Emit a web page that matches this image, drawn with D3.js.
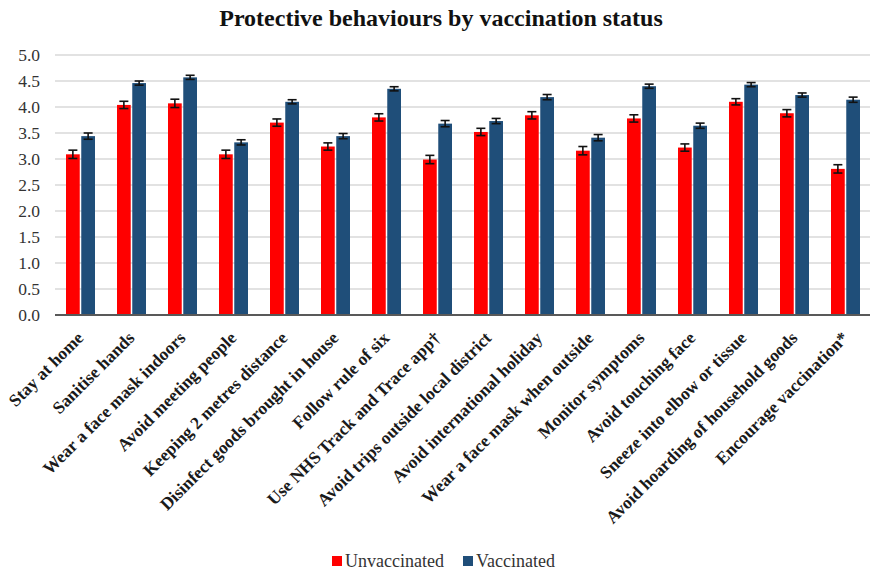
<!DOCTYPE html>
<html>
<head>
<meta charset="utf-8">
<script src="https://cdn.jsdelivr.net/npm/d3@7"></script>
<style>
  body { margin: 0; background: #fff; }
  #chart { width: 870px; height: 573px; }
</style>
</head>
<body>
<div id="chart"></div>
<script>
// categories and values
const behaviours = ["Stay at home", "Sanitise hands", "Wear a face mask indoors", "Avoid meeting people",
    "Keeping 2 metres distance", "Disinfect goods brought in house", "Follow rule of six",
    "Use NHS Track and Trace app\u2020", "Avoid trips outside local district", "Avoid international holiday",
    "Wear a face mask when outside", "Monitor symptoms", "Avoid touching face",
    "Sneeze into elbow or tissue", "Avoid hoarding of household goods", "Encourage vaccination*"];
const unvaccinated = [3.09, 4.04, 4.07, 3.09, 3.70, 3.24, 3.80, 2.99, 3.52, 3.84, 3.16, 3.78, 3.22, 4.10, 3.88, 2.81];
const vaccinated   = [3.44, 4.46, 4.57, 3.32, 4.10, 3.44, 4.35, 3.68, 3.73, 4.19, 3.41, 4.40, 3.64, 4.43, 4.23, 4.14];
const unvaccErr    = [0.08, 0.07, 0.08, 0.08, 0.07, 0.07, 0.07, 0.08, 0.07, 0.07, 0.08, 0.07, 0.07, 0.06, 0.07, 0.08];
const vaccErr      = [0.06, 0.04, 0.04, 0.05, 0.04, 0.05, 0.04, 0.06, 0.05, 0.05, 0.06, 0.04, 0.05, 0.04, 0.04, 0.05];
const series = ["Unvaccinated", "Vaccinated"];
const colours = ["#ff0000", "#1f4e79"];
const yTicks = [0, 0.5, 1, 1.5, 2, 2.5, 3, 3.5, 4, 4.5, 5];

const width = 870, height = 573;
const margin = {top: 55, left: 55, right: 0, bottom: 258};
const serif = "'Liberation Serif', 'Times New Roman', serif";

let svg = d3.select("#chart").append("svg")
    .attr("width", width)
    .attr("height", height);

// title
svg.append("text")
    .attr("x", 441)
    .attr("y", 26)
    .attr("text-anchor", "middle")
    .style("font-family", serif)
    .style("font-weight", "bold")
    .style("font-size", "24px")
    .attr("fill", "#111")
    .text("Protective behaviours by vaccination status");

let x = d3.scaleBand()
    .domain(behaviours)
    .range([margin.left, width + 1])
    .paddingInner(0)
    .paddingOuter(0);

let x1 = d3.scaleBand()
    .domain(series)
    .range([11, 40])
    .paddingInner(0.1);

let y = d3.scaleLinear()
    .domain([0, 5])
    .range([height - margin.bottom, margin.top]);

// gridlines
svg.append("g")
    .selectAll("line")
    .data(yTicks.slice(1))
    .enter()
    .append("line")
    .attr("x1", margin.left)
    .attr("x2", width)
    .attr("y1", d => y(d))
    .attr("y2", d => y(d))
    .attr("stroke", "#d9d9d9")
    .attr("stroke-width", 1.5);

// y axis labels
let yAxis = svg.append("g")
    .attr("transform", `translate(${margin.left},0)`)
    .call(d3.axisLeft(y).tickValues(yTicks).tickFormat(d3.format(".1f")).tickSize(0).tickPadding(15));
yAxis.select(".domain").remove();
yAxis.attr("font-family", null).attr("font-size", null);
yAxis.selectAll("text")
    .style("font-family", serif)
    .style("font-size", "17.5px")
    .attr("fill", "#333");

// bars
let rows = behaviours.map((b, i) => ({
    name: b,
    vals: [
        {s: series[0], v: unvaccinated[i], e: unvaccErr[i]},
        {s: series[1], v: vaccinated[i], e: vaccErr[i]}
    ]
}));

let groups = svg.append("g")
    .selectAll("g")
    .data(rows)
    .enter()
    .append("g")
    .attr("transform", d => `translate(${x(d.name)},0)`);

groups.selectAll("rect")
    .data(d => d.vals)
    .enter()
    .append("rect")
    .attr("x", d => x1(d.s))
    .attr("width", x1.bandwidth())
    .attr("y", d => y(d.v))
    .attr("height", d => y(0) - y(d.v))
    .attr("fill", (d, i) => colours[i]);

// error bars
let err = groups.selectAll("g.err")
    .data(d => d.vals)
    .enter()
    .append("g")
    .attr("class", "err")
    .attr("stroke", "#111")
    .attr("stroke-width", 1.6);

err.append("line")
    .attr("x1", d => x1(d.s) + x1.bandwidth() / 2)
    .attr("x2", d => x1(d.s) + x1.bandwidth() / 2)
    .attr("y1", d => y(d.v - d.e))
    .attr("y2", d => y(d.v + d.e));
err.append("line")
    .attr("x1", d => x1(d.s) + x1.bandwidth() / 2 - 4.5)
    .attr("x2", d => x1(d.s) + x1.bandwidth() / 2 + 4.5)
    .attr("y1", d => y(d.v + d.e))
    .attr("y2", d => y(d.v + d.e));
err.append("line")
    .attr("x1", d => x1(d.s) + x1.bandwidth() / 2 - 4.5)
    .attr("x2", d => x1(d.s) + x1.bandwidth() / 2 + 4.5)
    .attr("y1", d => y(d.v - d.e))
    .attr("y2", d => y(d.v - d.e));

// baseline
svg.append("line")
    .attr("x1", margin.left)
    .attr("x2", width)
    .attr("y1", y(0))
    .attr("y2", y(0))
    .attr("stroke", "#595959")
    .attr("stroke-width", 2);

// x labels rotated
svg.append("g")
    .selectAll("text")
    .data(behaviours)
    .enter()
    .append("text")
    .attr("transform", d => `translate(${x(d) + x.bandwidth() / 2 + 4},${y(0) + 24}) rotate(-45)`)
    .attr("text-anchor", "end")
    .style("font-family", serif)
    .style("font-weight", "bold")
    .style("font-size", "17.5px")
    .attr("fill", "#1a1a1a")
    .text(d => d);

// legend
let legend = svg.append("g")
    .attr("transform", "translate(332,567)");
let legendX = [0, 131];
series.forEach((s, i) => {
    legend.append("rect")
        .attr("x", legendX[i])
        .attr("y", -11)
        .attr("width", 10)
        .attr("height", 10)
        .attr("fill", colours[i]);
    legend.append("text")
        .attr("x", legendX[i] + 13)
        .attr("y", 0)
        .style("font-family", serif)
        .style("font-size", "18px")
        .attr("fill", "#333")
        .text(s);
});
</script>
</body>
</html>
